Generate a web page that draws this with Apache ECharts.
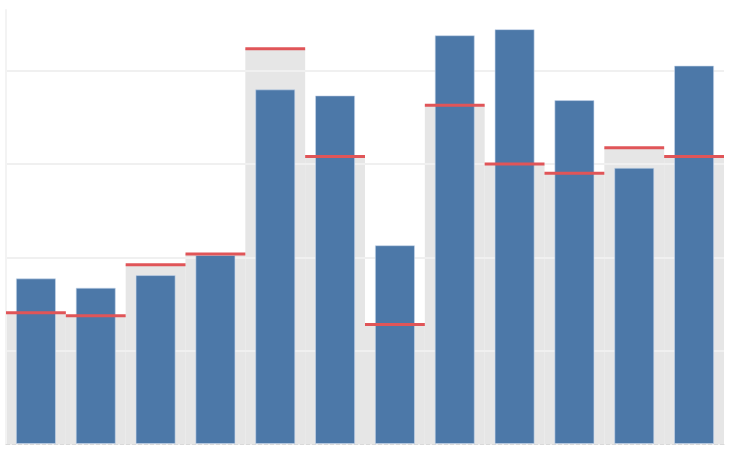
<!DOCTYPE html>
<html>
<head>
<meta charset="utf-8">
<script src="https://cdn.jsdelivr.net/npm/echarts@6/dist/echarts.min.js"></script>
<style>html,body{margin:0;padding:0;background:#fff}#c{width:729px;height:450px}</style>
</head>
<body>
<div id="c"></div>
<script>
var categories = ['1','2','3','4','5','6','7','8','9','10','11','12'];
var actualValues = [35.5, 33.5, 36.2, 40.5, 76.0, 74.7, 42.6, 87.6, 88.9, 73.7, 59.2, 81.1];
var targetValues = [28.1, 27.5, 38.4, 40.7, 84.7, 61.6, 25.6, 72.6, 60.0, 58.0, 63.5, 61.6];
var yMax = 93;
var yInterval = 20;

var chart = echarts.init(document.getElementById('c'), null, {renderer: 'canvas'});
chart.setOption({
  animation: false,
  grid: {left: 6, right: 5, top: 10, bottom: 6, containLabel: false},
  xAxis: [
    {
      type: 'category',
      data: categories,
      axisLabel: {show: false},
      axisTick: {show: false},
      axisLine: {show: true, lineStyle: {color: '#d9d9d9', type: 'dashed', width: 1}},
      z: 3
    },
    {
      type: 'category',
      data: categories,
      show: false
    }
  ],
  yAxis: {
    type: 'value',
    min: 0,
    max: yMax,
    interval: yInterval,
    z: 1,
    axisLabel: {show: false},
    axisTick: {show: false},
    axisLine: {show: true, lineStyle: {color: '#f3f3f3', width: 2}},
    splitLine: {show: true, lineStyle: {color: ['transparent', '#f0f0f0', '#f0f0f0', '#f0f0f0', '#f0f0f0', 'transparent'], width: 2}}
  },
  series: [
    {
      type: 'bar',
      xAxisIndex: 1,
      data: targetValues,
      barWidth: '100%',
      itemStyle: {color: '#e6e6e6'},
      z: 0,
      silent: true
    },
    {
      type: 'bar',
      xAxisIndex: 0,
      data: actualValues,
      barWidth: '67%',
      itemStyle: {color: '#4c78a8', borderColor: 'rgba(200,215,235,0.6)', borderWidth: 1},
      z: 2
    },
    {
      type: 'custom',
      xAxisIndex: 0,
      data: targetValues.map(function (v, i) { return [i, v]; }),
      z: 4,
      renderItem: function (params, api) {
        var p = api.coord([api.value(0), api.value(1)]);
        var w = api.size([1, 0])[0];
        return {
          type: 'line',
          shape: {x1: p[0] - w / 2, y1: p[1], x2: p[0] + w / 2, y2: p[1]},
          style: {stroke: '#e05558', lineWidth: 3}
        };
      },
      encode: {x: 0, y: 1}
    }
  ]
});
</script>
</body>
</html>
